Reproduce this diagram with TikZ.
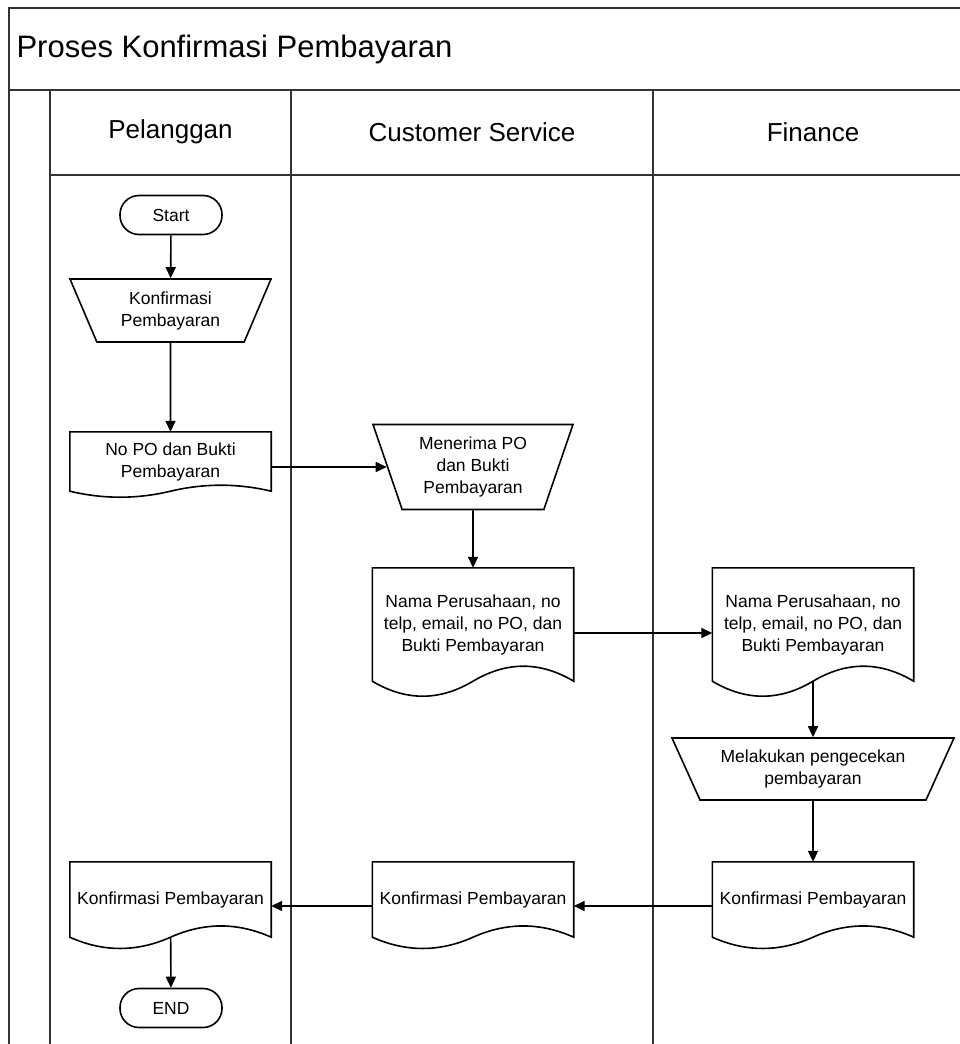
\documentclass[tikz,border=0pt]{standalone}
\usepackage{fontspec}
\setmainfont{Liberation Sans}
\usetikzlibrary{shapes.geometric,arrows.meta,calc}

\tikzset{
  lane/.style={draw=black!80, line width=1.7pt},
  shapetext/.style={font=\fontsize{17.5}{22}\selectfont, align=center},
  term/.style={shapetext, draw, line width=1.6pt, rectangle, rounded corners=19pt,
    minimum width=102pt, minimum height=39pt},
  manual/.style={shapetext, draw, line width=1.6pt, trapezium, shape border rotate=180,
    trapezium stretches body, inner sep=2pt},
  doc/.style={shapetext, rectangle, inner sep=0pt, minimum width=201pt, minimum height=#1},
  flow/.style={-{Triangle[length=11pt,width=10pt]}, line width=1.6pt},
}

\begin{document}
\begin{tikzpicture}[x=1pt,y=-1pt]
  \useasboundingbox (0,0) rectangle (960,1044);
  \clip (0,0) rectangle (960,1044);
  % pool and lanes
  \draw[lane] (9,1060) -- (9,8) -- (980,8);
  \draw[lane] (9,90) -- (980,90);
  \draw[lane] (50,175) -- (980,175);
  \foreach \x in {50,291,653}
    \draw[lane] (\x,90) -- (\x,1060);

  \node[anchor=west, font=\fontsize{31}{36}\selectfont] (title) at (13,49) {Proses Konfirmasi Pembayaran};
  \node[font=\fontsize{26}{30}\selectfont] (hpel) at (170.5,132) {Pelanggan};
  \node[font=\fontsize{26}{30}\selectfont] (hcs)  at (472,132)   {Customer Service};
  \node[font=\fontsize{26}{30}\selectfont] (hfin) at (813,132)   {Finance};

  % Pelanggan
  \node[term] (start) at (171,215) {Start};
  \node[manual, minimum width=201pt, minimum height=63pt, trapezium left angle=57.6,
    trapezium right angle=57.6] (konftrap) at (170.5,310.5) {Konfirmasi\\Pembayaran};
  \node[doc=59pt] (nopo) at (170.5,461.5) {No PO dan Bukti\\Pembayaran};
  \node[doc=75pt] (plkonf) at (170.5,899.5) {Konfirmasi Pembayaran};
  \node[term] (end) at (171,1008) {END};

  % Customer Service
  \node[manual, minimum width=200pt, minimum height=85pt, trapezium left angle=65.6,
    trapezium right angle=65.6] (menerima) at (473,467) {Menerima PO\\dan Bukti\\Pembayaran};
  \node[doc=113pt] (csnama) at (473,624.5) {Nama Perusahaan, no\\telp, email, no PO, dan\\Bukti Pembayaran};
  \node[doc=75pt] (cskonf) at (473,899.5) {Konfirmasi Pembayaran};

  % Finance
  \node[doc=113pt] (finnama) at (813,624.5) {Nama Perusahaan, no\\telp, email, no PO, dan\\Bukti Pembayaran};
  \node[manual, minimum width=282pt, minimum height=62pt, trapezium left angle=56.5,
    trapezium right angle=56.5] (cek) at (813,769) {Melakukan pengecekan\\pembayaran};
  \node[doc=75pt] (finkonf) at (813,899.5) {Konfirmasi Pembayaran};

  % document outlines
  \foreach \n/\a in {nopo/8,csnama/20,finnama/20,finkonf/15,cskonf/15,plkonf/15}
    \draw[line width=1.6pt] (\n.north west) -- (\n.north east) -- (\n.south east)
      .. controls ($(\n.south east)!1/6!(\n.south west)+(0,-\a)$) and ($(\n.south east)!2/6!(\n.south west)+(0,-\a)$) .. (\n.south)
      .. controls ($(\n.south east)!4/6!(\n.south west)+(0,\a)$) and ($(\n.south east)!5/6!(\n.south west)+(0,\a)$) .. (\n.south west)
      -- cycle;

  \draw[flow] (start) -- (konftrap);
  \draw[flow] (konftrap) -- (nopo);
  \draw[flow] ([yshift=-5.5pt]nopo.east) -- (menerima);
  \draw[flow] (menerima) -- (csnama);
  \draw[flow] ([yshift=-8.5pt]csnama.east) -- ([yshift=-8.5pt]finnama.west);
  \draw[flow] (finnama) -- (cek);
  \draw[flow] (cek) -- (finkonf);
  \draw[flow] ([yshift=-6.5pt]finkonf.west) -- ([yshift=-6.5pt]cskonf.east);
  \draw[flow] ([yshift=-6.5pt]cskonf.west) -- ([yshift=-6.5pt]plkonf.east);
  \draw[flow] (plkonf) -- (end);
\end{tikzpicture}
\end{document}
